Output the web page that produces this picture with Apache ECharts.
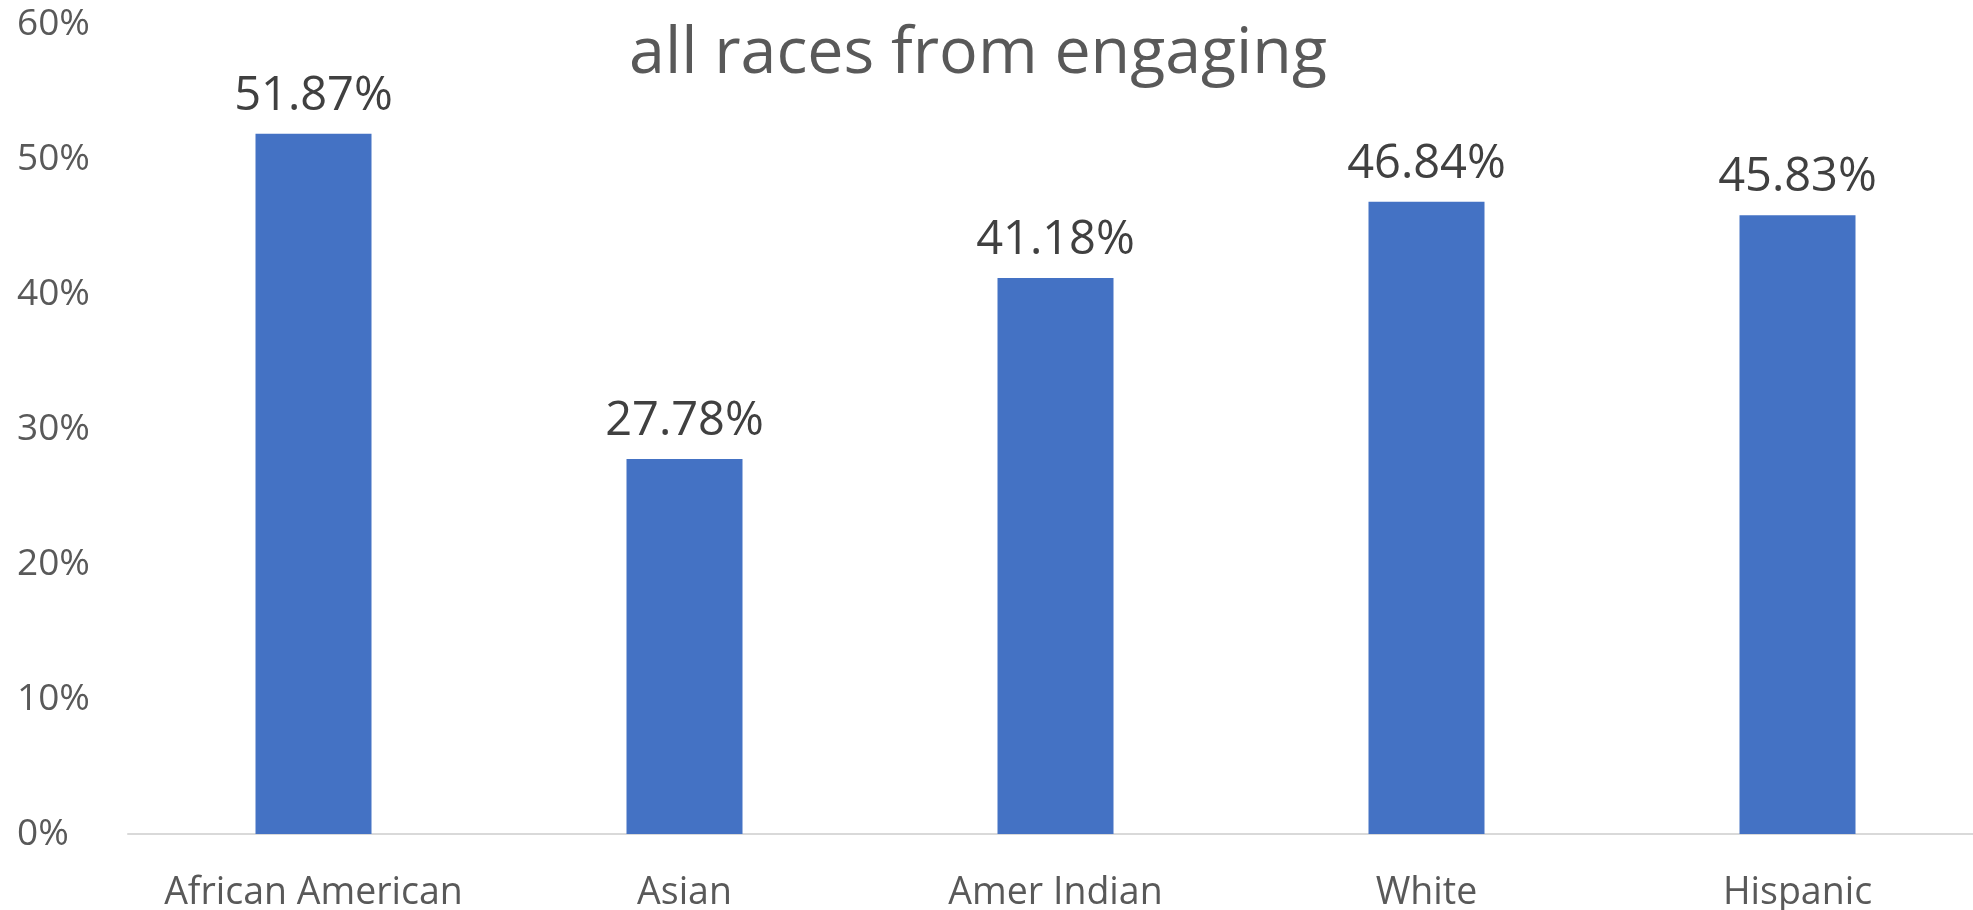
<!DOCTYPE html>
<html><head><meta charset="utf-8">
<script src="https://cdn.jsdelivr.net/npm/echarts@6/dist/echarts.min.js"></script>
<style>html,body{margin:0;padding:0;background:#fff}#c{width:1973px;height:910px}</style>
</head><body><div id="c"></div>
<script>
const titleText = 'all races from engaging';
const categories = ['African American', 'Asian', 'Amer Indian', 'White', 'Hispanic'];
const values = [51.87, 27.78, 41.18, 46.84, 45.83];
const yTicks = [0, 10, 20, 30, 40, 50, 60];

const chart = echarts.init(document.getElementById('c'));
chart.setOption({
  animation: false,
  title: {
    text: titleText, left: 973, top: 17, textAlign: 'center',
    textStyle: { fontFamily: 'Open Sans', fontSize: 64.5, fontWeight: 'normal', color: '#595959' }
  },
  grid: { left: 128, width: 1855, top: 24, bottom: 76, containLabel: false, outerBoundsMode: 'none' },
  xAxis: {
    type: 'category', data: categories,
    axisLine: { lineStyle: { color: '#D9D9D9', width: 2 } },
    axisTick: { show: false },
    axisLabel: { fontFamily: 'Open Sans', fontSize: 37.5, color: '#595959', margin: 40, interval: 0 }
  },
  yAxis: {
    type: 'value', min: yTicks[0], max: yTicks[yTicks.length - 1], interval: 10,
    axisLine: { show: false }, axisTick: { show: false }, splitLine: { show: false },
    axisLabel: { fontFamily: 'Open Sans', fontSize: 37, color: '#595959', margin: 111, formatter: v => v + '%', align: 'left' }
  },
  series: [{
    type: 'bar', data: values, barWidth: 116,
    itemStyle: { color: '#4472C4' },
    label: { show: true, position: 'top', distance: 14, formatter: p => p.value.toFixed(2) + '%',
      fontFamily: 'Open Sans', fontSize: 47, color: '#404040' }
  }]
});
</script></body></html>
